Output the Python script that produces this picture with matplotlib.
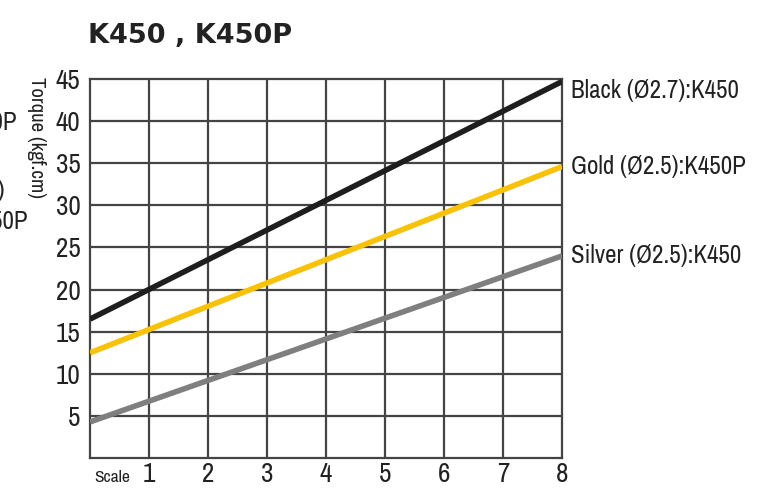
import matplotlib
matplotlib.use("Agg")
import matplotlib.pyplot as plt
from matplotlib import font_manager

cond = [f.name for f in font_manager.fontManager.ttflist
        if "condensed" in f.fname.lower() or "narrow" in f.fname.lower()]
plt.rcParams["font.family"] = (sorted(set(cond))[:1] or ["DejaVu Sans"]) + ["DejaVu Sans"]
plt.rcParams["font.stretch"] = "condensed"

# data (torque at scale 0 and scale 8)
scale = [0, 8]
black = [16.5, 44.7]
gold = [12.5, 34.6]
silver = [4.3, 24.0]
labels = ["Black (Ø2.7):K450", "Gold (Ø2.5):K450P", "Silver (Ø2.5):K450"]
label_y = [43.6, 34.6, 24.0]
yticks = [5, 10, 15, 20, 25, 30, 35, 40, 45]
xticks = [1, 2, 3, 4, 5, 6, 7, 8]

fig = plt.figure(figsize=(7.83, 4.90), dpi=100)
ax = fig.add_axes([0.115, 0.065, 0.603, 0.774])

grid_c = "#444444"
for v in range(1, 8):
    ax.axvline(v, color=grid_c, lw=1.6, zorder=1)
for v in yticks[:-1]:
    ax.axhline(v, color=grid_c, lw=1.6, zorder=1)

ax.plot(scale, silver, color="#7f7f80", lw=4, solid_capstyle="butt", zorder=3)
ax.plot(scale, gold, color="#f7c208", lw=4, solid_capstyle="butt", zorder=3)
ax.plot(scale, black, color="#1e1e1e", lw=4, solid_capstyle="butt", zorder=3)

ax.set_xlim(0, 8)
ax.set_ylim(0, 45)
for s in ax.spines.values():
    s.set_color(grid_c)
    s.set_linewidth(1.6)

ax.set_yticks(yticks)
ax.set_xticks(xticks)
ax.tick_params(length=0, labelsize=19.5, colors="#222222")
ax.tick_params(axis="x", pad=3)
ax.tick_params(axis="y", pad=7)

ax.text(0.38, -1.4, "Scale", fontsize=12.5, ha="center", va="top", color="#222222")

for t, y in zip(labels, label_y):
    ax.text(8.15, y, t, fontsize=18, ha="left", va="center", color="#222222", clip_on=False)

fig.text(0.047, 0.72, "Torque (kgf.cm)", fontsize=15, rotation=-90, ha="center", va="center", color="#222222")
fig.text(0.113, 0.927, "K450 , K450P", fontsize=19.5, fontweight="bold", family="DejaVu Sans",
         fontstretch="normal", ha="left", va="center", color="#222222")

# labels of the neighbouring chart, cut off at the left edge
fig.text(0.022, 0.75, "K450P", fontsize=18, ha="right", va="center", color="#222222")
fig.text(0.006, 0.612, "(Ø2.5)", fontsize=18, ha="right", va="center", color="#222222")
fig.text(0.036, 0.547, "K450P", fontsize=18, ha="right", va="center", color="#222222")

fig.savefig("out.png", dpi=100, facecolor="white")
